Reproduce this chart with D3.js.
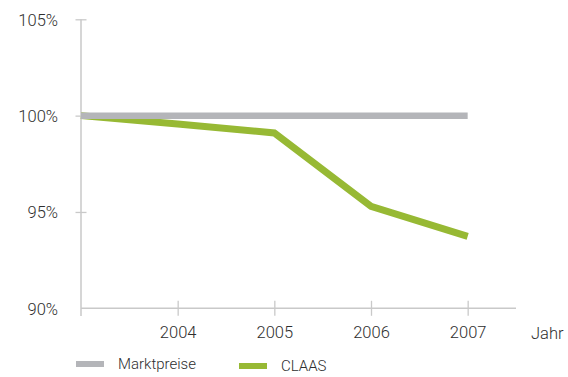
<!DOCTYPE html>
<html>
<head>
<meta charset="utf-8">
<script src="https://cdn.jsdelivr.net/npm/d3@7/dist/d3.min.js"></script>
<style>
  html, body { margin: 0; padding: 0; background: #fff; }
  svg { display: block; }
  text { font-family: Roboto, "Liberation Sans", sans-serif; font-weight: 300; fill: #2e2e2e; }
</style>
</head>
<body>
<svg id="chart" width="568" height="377"></svg>
<script>
const years = [2003, 2004, 2005, 2006, 2007];
const xTickYears = [2004, 2005, 2006, 2007];
const yTicks = [90, 95, 100, 105];
const marktpreise = [100, 100, 100, 100, 100];
const claas = [100, 99.57, 99.1, 95.29, 93.73];
const seriesNames = ["Marktpreise", "CLAAS"];
const xAxisTitle = "Jahr";

const svg = d3.select("#chart");
const x = d3.scaleLinear().domain([2003, 2007.5]).range([81, 516]);
const y = d3.scaleLinear().domain([90, 105]).range([308.3, 19.3]);

const axisColor = "#c9c9c9";
const grey = "#b4b5b9";
const green = "#97b934";

// Y axis
const yAxis = d3.axisLeft(y).tickValues(yTicks).tickSize(0).tickFormat(d => d + "%").tickPadding(23);
const gy = svg.append("g").attr("transform", `translate(${x(2003)},0)`).call(yAxis);
gy.select(".domain").remove();
gy.selectAll("text").style("font-size", "16.5px").attr("dy", "0.35em");
gy.append("line").attr("x1", 0).attr("x2", 0).attr("y1", y(105)).attr("y2", 316)
  .attr("stroke", axisColor).attr("stroke-width", 1.5);
gy.selectAll(".tick").filter(d => d !== 90).append("line")
  .attr("x1", -5.5).attr("x2", 5.5).attr("stroke", axisColor).attr("stroke-width", 1.3);

// X axis
const xAxis = d3.axisBottom(x).tickValues(xTickYears).tickSize(0).tickFormat(d3.format("d")).tickPadding(18);
const gx = svg.append("g").attr("transform", `translate(0,${y(90)})`).call(xAxis);
gx.select(".domain").remove();
gx.append("line").attr("x1", x(2003)).attr("x2", x.range()[1]).attr("y1", 0).attr("y2", 0)
  .attr("stroke", axisColor).attr("stroke-width", 1.5);
gx.selectAll(".tick").append("line").attr("y1", -7.5).attr("y2", 7.5)
  .attr("stroke", axisColor).attr("stroke-width", 1.3);
gx.selectAll(".tick text").style("font-size", "16.5px").attr("dy", "0.71em");
svg.append("text").attr("x", 531).attr("y", 338.5).style("font-size", "16.5px").text(xAxisTitle);

// Lines
const line = d3.line().x((d, i) => x(years[i])).y(d => y(d));
svg.append("path").datum(claas).attr("d", line).attr("fill", "none")
  .attr("stroke", green).attr("stroke-width", 7).attr("stroke-linejoin", "miter");
svg.append("path").datum(marktpreise).attr("d", line).attr("fill", "none")
  .attr("stroke", grey).attr("stroke-width", 6.5);

// Legend
const legend = [
  { name: seriesNames[0], color: grey, sx: 76, tx: 118, cy: 364 },
  { name: seriesNames[1], color: green, sx: 239, tx: 281, cy: 366 }
];
const lg = svg.append("g");
legend.forEach(l => {
  lg.append("rect").attr("x", l.sx).attr("y", l.cy - 3).attr("width", 28).attr("height", 6).attr("fill", l.color);
  lg.append("text").attr("x", l.tx).attr("y", l.cy).attr("dy", "0.35em").style("font-size", "15px").text(l.name);
});
</script>
</body>
</html>
